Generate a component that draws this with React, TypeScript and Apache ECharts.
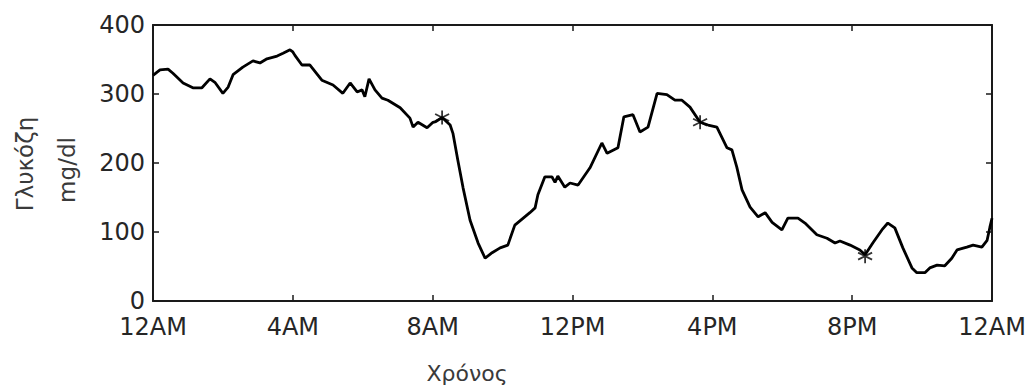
import React, { useEffect, useRef } from "react";
import * as echarts from "echarts";

// Time in hours since midnight, glucose in mg/dl
const hours = [
  0.0, 0.2, 0.43, 0.57, 0.86, 1.14, 1.4, 1.63, 1.77, 2.0, 2.15, 2.29, 2.57, 2.86, 3.06, 3.26, 3.55, 3.72, 3.92, 4.0,
  4.06, 4.26, 4.49, 4.83, 5.15, 5.43, 5.64, 5.84, 5.98, 6.06, 6.18, 6.35, 6.55, 6.72, 7.07, 7.35, 7.44, 7.58, 7.84, 8.01,
  8.09, 8.27, 8.5, 8.58, 8.72, 8.87, 9.07, 9.3, 9.5, 9.7, 9.93, 10.15, 10.35, 10.78, 10.93, 11.01, 11.21, 11.41, 11.5, 11.58,
  11.78, 11.93, 12.16, 12.5, 12.84, 12.99, 13.3, 13.47, 13.73, 13.93, 14.16, 14.42, 14.7, 14.93, 15.13, 15.36, 15.65, 15.88, 16.13, 16.42,
  16.56, 16.7, 16.85, 17.08, 17.31, 17.51, 17.71, 17.99, 18.16, 18.45, 18.65, 18.99, 19.28, 19.51, 19.65, 19.94, 20.22, 20.37, 20.59, 20.85,
  21.02, 21.22, 21.45, 21.71, 21.85, 22.08, 22.22, 22.43, 22.65, 22.85, 23.0, 23.28, 23.46, 23.71, 23.86, 23.94, 24.0,
];
const glucose = [
  327, 335, 336, 330, 316, 309, 309, 322, 317, 301, 310, 328, 339, 348, 345, 351, 355, 359, 364, 361,
  356, 342, 342, 320, 313, 301, 316, 303, 306, 296, 322, 306, 294, 291, 280, 265, 252, 259, 251, 259,
  260, 266, 255, 243, 204, 164, 117, 84, 62, 70, 77, 81, 110, 128, 135, 154, 180, 180, 172, 181,
  165, 171, 168, 193, 229, 214, 222, 267, 270, 245, 252, 301, 299, 291, 291, 281, 259, 255, 252, 222,
  219, 194, 161, 136, 122, 128, 114, 103, 120, 120, 113, 96, 91, 84, 87, 81, 74, 67, 84, 103,
  113, 106, 77, 48, 41, 41, 48, 52, 51, 62, 74, 78, 81, 78, 88, 107, 120,
];
const markerHours = [8.27, 15.65, 20.37];
const markerValues = [266, 259, 65];
const xTickLabels = ["12AM", "4AM", "8AM", "12PM", "4PM", "8PM", "12AM"];
const yTicks = [0, 100, 200, 300, 400];
const yName = ["Γλυκόζη", "mg/dl"];
const xName = "Χρόνος";

const ASTERISK = "path://M0,-10L0,10M-8.7,-5L8.7,5M-8.7,5L8.7,-5";

export default function App() {
  const ref = useRef<HTMLDivElement>(null);
  useEffect(() => {
    if (!ref.current) return;
    const chart = echarts.init(ref.current, null, { renderer: "svg" });
    const font = "DejaVu Sans";
    const frame = { lineStyle: { color: "#1a1a1a", width: 2 } };
    const tick = { show: true, inside: true, length: 6, lineStyle: { color: "#1a1a1a", width: 1.5 } };
    chart.setOption({
      animation: false,
      backgroundColor: "#ffffff",
      grid: { left: 153, right: 44, top: 25, bottom: 84 },
      xAxis: [
        {
          type: "value",
          min: 0,
          max: 24,
          interval: 4,
          position: "bottom",
          axisLine: { show: true, onZero: false, ...frame },
          axisTick: tick,
          splitLine: { show: false },
          axisLabel: {
            color: "#262626",
            fontFamily: font,
            fontSize: 24,
            lineHeight: 18,
            margin: 17,
            formatter: (v: number) => xTickLabels[Math.round(v / 4)] ?? "",
          },
        },
        {
          type: "value",
          min: 0,
          max: 24,
          interval: 4,
          position: "top",
          axisLine: { show: true, onZero: false, ...frame },
          axisTick: tick,
          splitLine: { show: false },
          axisLabel: { show: false },
        },
      ],
      yAxis: [
        {
          type: "value",
          min: yTicks[0],
          max: yTicks[yTicks.length - 1],
          interval: 100,
          position: "left",
          axisLine: { show: true, onZero: false, ...frame },
          axisTick: tick,
          splitLine: { show: false },
          axisLabel: { color: "#262626", fontFamily: font, fontSize: 24, lineHeight: 18, margin: 8 },
        },
        {
          type: "value",
          min: yTicks[0],
          max: yTicks[yTicks.length - 1],
          interval: 100,
          position: "right",
          axisLine: { show: true, onZero: false, ...frame },
          axisTick: tick,
          splitLine: { show: false },
          axisLabel: { show: false },
        },
      ],
      graphic: [
        {
          type: "text",
          x: 25,
          y: 164,
          rotation: Math.PI / 2,
          style: {
            text: yName[0],
            fill: "#3a3a3a",
            font: `23px "${font}"`,
            textAlign: "center",
            textVerticalAlign: "middle",
          },
        },
        {
          type: "text",
          x: 67,
          y: 170,
          rotation: Math.PI / 2,
          style: {
            text: yName[1],
            fill: "#3a3a3a",
            font: `23px "${font}"`,
            textAlign: "center",
            textVerticalAlign: "middle",
          },
        },
        {
          type: "text",
          x: 467,
          y: 373,
          style: {
            text: xName,
            fill: "#3a3a3a",
            font: `22px "${font}"`,
            textAlign: "center",
            textVerticalAlign: "middle",
          },
        },
      ],
      series: [
        {
          type: "line",
          xAxisIndex: 0,
          yAxisIndex: 0,
          data: hours.map((h, i) => [h, glucose[i]]),
          showSymbol: false,
          symbol: "none",
          lineStyle: { color: "#000", width: 2.8 },
          z: 3,
        },
        {
          type: "scatter",
          xAxisIndex: 0,
          yAxisIndex: 0,
          data: markerHours.map((h, i) => [h, markerValues[i]]),
          symbol: ASTERISK,
          symbolSize: 14,
          itemStyle: { color: "none", borderColor: "#000", borderWidth: 1.8 },
          z: 4,
        },
      ],
    });
    return () => chart.dispose();
  }, []);
  return (
    <div
      ref={ref}
      style={{ position: "fixed", left: 0, top: 0, width: 1036, height: 385 }}
    />
  );
}
